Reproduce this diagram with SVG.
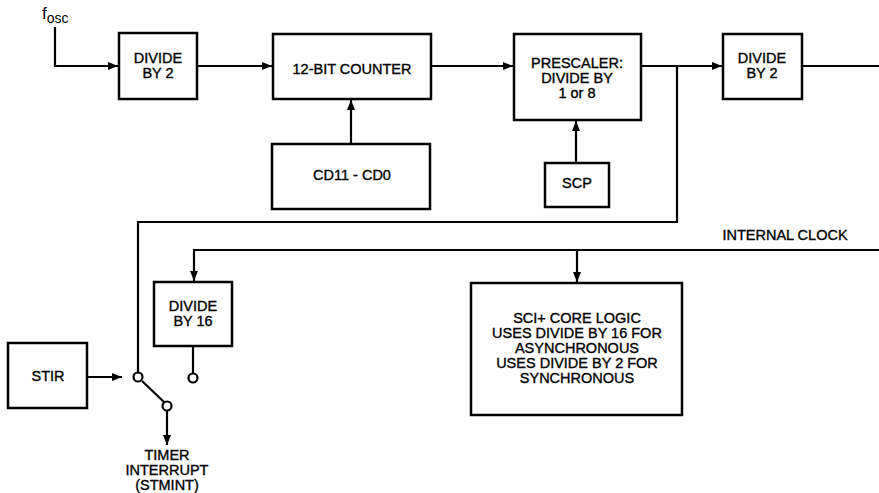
<svg xmlns="http://www.w3.org/2000/svg" width="879" height="493" viewBox="0 0 879 493">
<style>
.box{fill:#fff;stroke:#000;stroke-width:2.5}
.ln{fill:none;stroke:#000;stroke-width:2.2}
.t{font-family:"Liberation Sans",Arial,sans-serif;font-size:14.5px;fill:#000;text-anchor:middle;stroke:#000;stroke-width:0.35}
.c{fill:#fff;stroke:#000;stroke-width:2.2}
</style>
<defs>
<marker id="ah" viewBox="0 0 10 8" refX="10" refY="4" markerWidth="10" markerHeight="8" markerUnits="userSpaceOnUse" orient="auto">
<path d="M0,0 L10,4 L0,8 Z" fill="#000"/>
</marker>
</defs>
<rect width="879" height="493" fill="#fff"/>
<g id="connectors">
<path class="ln" d="M55,27 V66 H118" marker-end="url(#ah)"/>
<path class="ln" d="M197,66 H272" marker-end="url(#ah)"/>
<path class="ln" d="M351,144 V100" marker-end="url(#ah)"/>
<path class="ln" d="M431,66 H513" marker-end="url(#ah)"/>
<path class="ln" d="M576,163 V121" marker-end="url(#ah)"/>
<path class="ln" d="M641,66 H722" marker-end="url(#ah)"/>
<path class="ln" d="M802,66 H879"/>
<path class="ln" d="M677,66 V222 H138 V372"/>
<path class="ln" d="M879,250 H194 V281" marker-end="url(#ah)"/>
<path class="ln" d="M577,250 V282" marker-end="url(#ah)"/>
<path class="ln" d="M193,346 V373"/>
<path class="ln" d="M87,377 H122" marker-end="url(#ah)"/>
<path class="ln" d="M142,381 L164,402"/>
<path class="ln" d="M167,411 V445" marker-end="url(#ah)"/>
<circle class="c" cx="138" cy="377" r="4.5"/>
<circle class="c" cx="193" cy="378" r="4.5"/>
<circle class="c" cx="167" cy="406" r="4.5"/>
</g>
<g id="fosc"><text x="42" y="19" font-family="Liberation Sans,Arial,sans-serif" font-size="17">f<tspan font-size="14" dy="4">osc</tspan></text></g>
<g id="div2a"><rect class="box" x="119" y="33" width="78" height="66"/><text class="t" x="158" y="63">DIVIDE</text><text class="t" x="158" y="78">BY 2</text></g>
<g id="counter"><rect class="box" x="273" y="34" width="158" height="65"/><text class="t" x="352" y="74">12-BIT COUNTER</text></g>
<g id="cd"><rect class="box" x="272" y="144" width="158" height="65"/><text class="t" x="352" y="180">CD11 - CD0</text></g>
<g id="prescaler"><rect class="box" x="514" y="34" width="127" height="86"/><text class="t" x="577" y="68">PRESCALER:</text><text class="t" x="577" y="83">DIVIDE BY</text><text class="t" x="577" y="98">1 or 8</text></g>
<g id="scp"><rect class="box" x="545" y="163" width="64" height="44"/><text class="t" x="577" y="188">SCP</text></g>
<g id="div2b"><rect class="box" x="723" y="34" width="79" height="65"/><text class="t" x="762" y="63">DIVIDE</text><text class="t" x="762" y="78">BY 2</text></g>
<g id="iclk"><text class="t" x="785" y="240">INTERNAL CLOCK</text></g>
<g id="div16"><rect class="box" x="154" y="282" width="78" height="64"/><text class="t" x="193" y="311">DIVIDE</text><text class="t" x="193" y="326">BY 16</text></g>
<g id="stir"><rect class="box" x="8" y="343" width="79" height="65"/><text class="t" x="48" y="381">STIR</text></g>
<g id="timer"><text class="t" x="167" y="460">TIMER</text><text class="t" x="167" y="475">INTERRUPT</text><text class="t" x="167" y="490">(STMINT)</text></g>
<g id="sci"><rect class="box" x="471" y="283" width="211" height="132"/><text class="t" x="577" y="323">SCI+ CORE LOGIC</text><text class="t" x="577" y="338">USES DIVIDE BY 16 FOR</text><text class="t" x="577" y="353">ASYNCHRONOUS</text><text class="t" x="577" y="368">USES DIVIDE BY 2 FOR</text><text class="t" x="577" y="383">SYNCHRONOUS</text></g>
</svg>
